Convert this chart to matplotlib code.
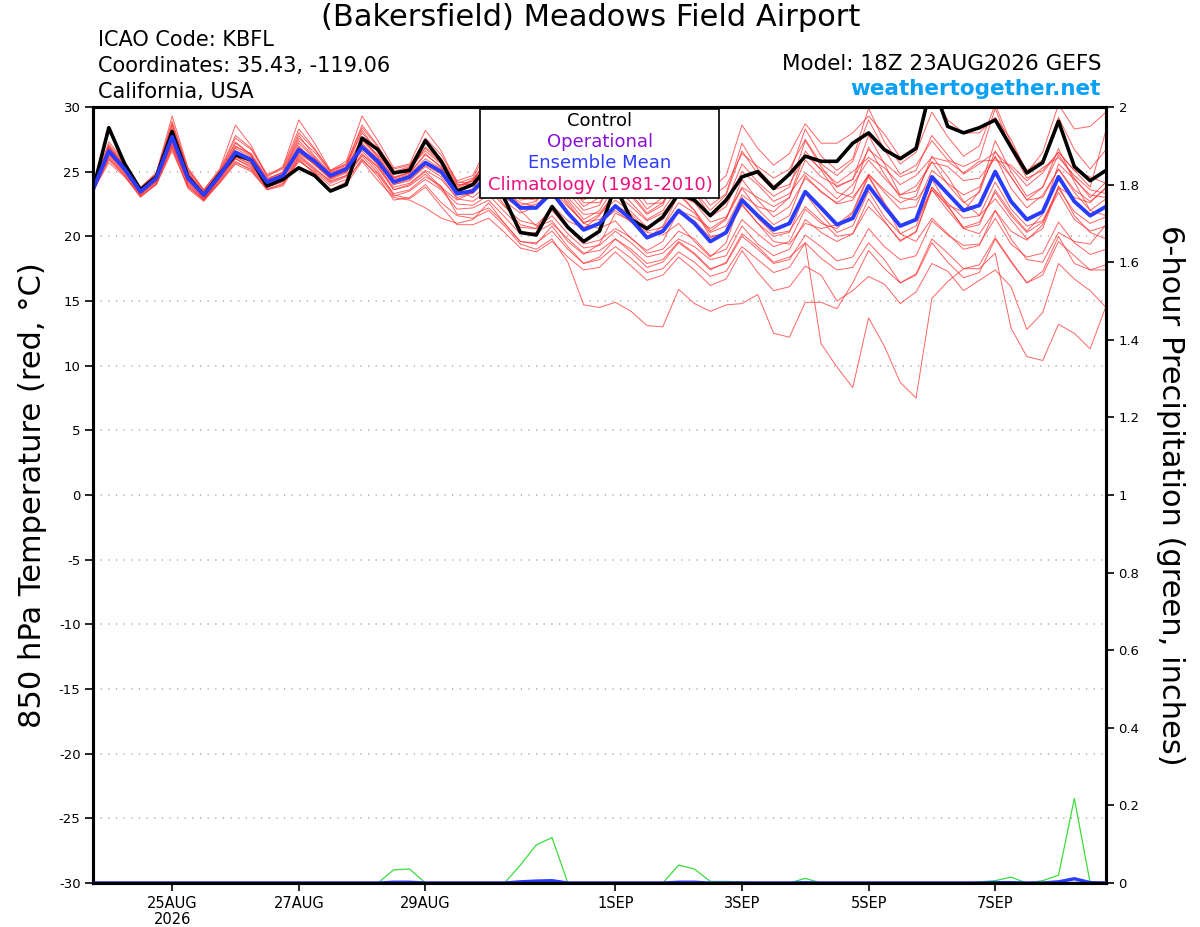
import numpy as np
import pandas as pd
import matplotlib
matplotlib.use("Agg")
import matplotlib.pyplot as plt
from matplotlib.patches import Rectangle

plt.rcParams["font.family"] = ["DejaVu Sans"]

# 6-hourly GEFS output, 18Z 23 Aug 2026 + 0..384 h
valid_times = pd.date_range("2026-08-23 18:00", periods=65, freq="6h")

control_temp = [
    23.6, 28.4, 25.6, 23.6, 24.6, 28.1, 24.6, 23.2, 24.8, 26.3,
    25.9, 23.9, 24.4, 25.3, 24.7, 23.5, 24.0, 27.6, 26.7, 24.9,
    25.1, 27.4, 25.8, 23.5, 24.0, 25.5, 22.9, 20.3, 20.1, 22.3,
    20.7, 19.6, 20.4, 23.9, 21.3, 20.6, 21.5, 23.3, 22.8, 21.6,
    22.8, 24.6, 25.0, 23.7, 24.8, 26.2, 25.8, 25.8, 27.2, 28.0,
    26.7, 26.0, 26.8, 31.9, 28.5, 28.0, 28.4, 29.0, 26.9, 24.9,
    25.7, 28.9, 25.4, 24.3, 25.1]

mean_temp = [
    23.6, 26.6, 25.2, 23.45, 24.5, 27.7, 24.5, 23.2, 24.7, 26.5,
    25.9, 24.2, 24.7, 26.7, 25.8, 24.7, 25.2, 26.9, 25.8, 24.2,
    24.6, 25.7, 25.0, 23.3, 23.5, 24.8, 23.3, 22.2, 22.2, 23.4,
    21.8, 20.5, 21.0, 22.35, 21.3, 19.9, 20.4, 22.0, 21.0, 19.6,
    20.3, 22.8, 21.6, 20.5, 21.0, 23.45, 22.2, 20.9, 21.4, 23.9,
    22.3, 20.8, 21.3, 24.6, 23.3, 22.0, 22.4, 25.0, 22.7, 21.3,
    21.9, 24.6, 22.7, 21.6, 22.3]

# perturbed members (850 hPa temperature, C)
m01 = [23.8, 27.3, 25.8, 23.7, 24.9, 29.3, 25.3, 23.6, 25.2, 28.6, 27.0, 24.6, 25.4, 29.0, 27.2, 25.1, 25.8, 29.3, 27.4, 25.3, 25.6, 28.2, 26.6,
       24.1, 24.5, 26.8, 24.8, 23.4, 23.8, 26.2, 23.8, 22.3, 23.0, 25.6, 23.7, 22.1, 23.0, 25.8, 24.0, 22.4, 23.3,
       27.2, 25.2, 23.9, 24.8, 28.3, 26.2, 25.1, 26.0, 29.9, 27.3, 25.6, 26.5, 29.6, 27.7, 26.2, 27.0, 30.2, 27.2, 25.1, 25.9, 29.2, 26.7, 25.2, 26.7]
m02 = [23.6, 26.2, 24.9, 23.3, 24.3, 27.0, 24.2, 22.9, 24.4, 26.0, 25.3, 23.8, 24.3, 26.2, 25.2, 24.3, 24.7, 26.3, 25.4, 23.8, 24.1, 25.1, 24.4,
       23.0, 23.4, 24.4, 22.7, 21.8, 22.3, 24.0, 22.6, 21.0, 20.6, 21.2, 19.8, 18.9, 19.6, 22.0, 21.5, 20.6, 21.4,
       23.7, 22.1, 20.9, 21.6, 24.7, 23.4, 22.6, 23.4, 26.9, 24.8, 23.0, 22.8, 24.4, 22.4, 20.6, 20.9, 23.6, 21.8, 20.4, 21.7, 25.6, 24.4, 23.2, 23.0]
m03 = [23.7, 26.8, 25.4, 23.5, 24.6, 28.4, 24.9, 23.3, 24.9, 27.2, 26.3, 24.4, 25.0, 27.8, 26.2, 24.9, 25.4, 28.2, 26.5, 24.9, 25.3, 26.8, 25.7,
       23.9, 24.3, 26.2, 24.3, 23.4, 23.2, 25.2, 23.4, 22.0, 22.4, 24.6, 23.3, 21.8, 22.6, 24.6, 23.4, 21.6, 22.6,
       25.6, 24.2, 23.1, 23.8, 27.4, 25.4, 23.8, 24.4, 26.7, 25.7, 24.6, 25.1, 27.8, 26.3, 24.8, 25.6, 26.5, 25.3, 23.9, 24.9, 26.5, 25.1, 24.6, 24.1]
m04 = [23.5, 25.7, 24.6, 23.1, 24.0, 26.6, 23.9, 22.8, 24.1, 25.6, 25.0, 23.6, 23.9, 25.8, 25.0, 23.9, 24.4, 25.9, 24.8, 23.1, 23.5, 24.4, 23.6,
       22.1, 22.2, 22.8, 21.5, 20.2, 20.3, 21.0, 19.8, 18.7, 18.9, 19.8, 19.0, 17.9, 18.2, 19.6, 18.7, 17.5, 17.9,
       20.0, 19.0, 17.9, 18.2, 20.1, 19.2, 18.1, 18.4, 20.6, 19.2, 18.2, 18.5, 21.2, 20.1, 19.3, 19.4, 21.4, 19.4, 18.4, 18.7, 21.1, 19.5, 18.6, 19.0]
m05 = [23.6, 27.0, 25.5, 23.6, 24.7, 28.0, 24.7, 23.4, 24.8, 26.9, 26.4, 24.5, 24.9, 27.4, 26.1, 24.8, 25.3, 27.6, 26.2, 24.5, 24.9, 26.3, 25.4,
       23.5, 23.9, 25.6, 24.2, 23.0, 22.8, 24.3, 23.0, 21.7, 21.8, 23.3, 22.3, 21.2, 21.8, 23.2, 22.6, 21.1, 21.5,
       23.8, 23.0, 22.3, 23.0, 25.9, 24.6, 23.9, 24.4, 27.8, 25.6, 23.2, 23.5, 25.8, 24.0, 22.6, 23.4, 26.6, 24.6, 22.8, 23.0, 25.2, 23.4, 22.0, 22.9]
m06 = [23.6, 26.4, 25.0, 23.2, 24.2, 27.3, 24.0, 22.8, 24.5, 26.1, 25.6, 23.9, 24.6, 26.4, 25.6, 24.4, 24.9, 26.8, 25.5, 23.6, 24.0, 25.0, 23.8,
       22.8, 23.4, 25.1, 23.6, 22.0, 20.8, 21.2, 19.6, 18.6, 19.4, 21.8, 21.2, 20.3, 20.1, 21.0, 19.6, 18.4, 19.5,
       23.0, 21.4, 20.2, 20.4, 22.3, 21.2, 20.0, 20.2, 22.3, 21.1, 19.7, 20.3, 23.8, 22.3, 20.7, 21.1, 23.4, 21.6, 20.3, 21.1, 23.4, 21.3, 20.4, 20.8]
m07 = [23.7, 26.9, 25.6, 23.8, 24.9, 28.9, 25.1, 23.6, 25.1, 27.8, 26.8, 24.8, 25.3, 28.3, 26.8, 25.0, 25.6, 28.6, 27.0, 25.0, 25.4, 27.6, 26.3,
       24.3, 24.7, 27.2, 25.3, 24.0, 24.4, 26.8, 24.6, 23.1, 24.0, 26.6, 24.7, 22.9, 23.8, 27.0, 25.4, 23.6, 24.7,
       28.6, 26.8, 25.5, 26.4, 28.7, 27.2, 27.2, 28.0, 29.3, 27.9, 26.1, 26.9, 31.2, 29.0, 28.0, 28.0, 29.2, 27.5, 24.9, 26.5, 30.2, 28.3, 28.5, 29.6]
m08 = [23.5, 26.0, 24.7, 23.0, 24.1, 26.8, 23.7, 22.7, 24.2, 25.8, 25.1, 23.7, 24.0, 25.9, 24.9, 23.6, 24.2, 26.0, 24.6, 22.8, 23.0, 24.0, 22.6,
       21.6, 21.4, 22.0, 20.8, 19.4, 19.0, 19.8, 18.0, 14.7, 14.5, 14.9, 14.2, 13.1, 13.0, 15.9, 14.8, 14.2, 14.7,
       14.8, 15.5, 12.5, 12.2, 14.9, 14.9, 14.4, 16.4, 18.9, 17.5, 16.4, 17.0, 19.5, 18.0, 16.8, 17.2, 19.8, 18.0, 16.4, 17.0, 19.6, 18.5, 17.4, 17.8]
m09 = [23.6, 26.5, 25.1, 23.4, 24.4, 27.6, 24.6, 23.1, 24.6, 26.4, 25.8, 24.1, 24.8, 26.9, 25.9, 24.8, 25.3, 27.2, 26.0, 24.4, 24.8, 26.0, 25.2,
       23.2, 23.7, 25.3, 23.5, 22.6, 22.3, 23.6, 22.3, 21.1, 21.3, 22.4, 21.7, 20.4, 20.7, 22.6, 21.8, 20.3, 20.8,
       23.2, 22.3, 21.9, 23.0, 26.6, 25.1, 23.4, 23.0, 24.7, 22.6, 20.9, 21.2, 23.6, 22.4, 21.9, 23.5, 27.4, 25.0, 23.1, 23.8, 26.8, 24.2, 22.0, 21.6]
m10 = [23.6, 26.7, 25.3, 23.5, 24.6, 28.2, 24.8, 23.3, 24.8, 26.8, 26.1, 24.3, 24.7, 27.0, 25.7, 24.5, 25.0, 27.0, 25.6, 24.0, 24.3, 25.4, 24.6,
       22.9, 22.7, 23.6, 22.3, 21.2, 20.9, 22.0, 20.6, 19.4, 19.7, 20.6, 19.9, 18.7, 19.0, 20.4, 19.8, 18.5, 19.0,
       21.3, 20.2, 19.2, 19.6, 22.1, 21.0, 20.6, 21.8, 24.6, 22.5, 20.2, 19.6, 21.4, 20.2, 19.0, 19.3, 22.0, 20.4, 19.7, 20.9, 23.9, 21.6, 20.3, 19.8]
m11 = [23.6, 26.3, 25.0, 23.3, 24.3, 27.2, 24.3, 23.0, 24.5, 26.2, 25.5, 24.0, 24.5, 26.6, 25.5, 24.5, 25.1, 27.4, 26.3, 24.8, 25.3, 26.6, 25.6,
       23.8, 24.4, 26.0, 24.1, 22.8, 23.0, 24.8, 22.8, 21.3, 22.0, 23.9, 22.6, 21.3, 22.0, 23.8, 22.8, 21.5, 22.3,
       25.0, 24.0, 22.7, 23.3, 24.9, 24.0, 22.9, 24.0, 25.9, 24.5, 23.2, 23.9, 25.7, 25.4, 24.3, 24.5, 26.1, 24.6, 22.8, 23.8, 26.3, 24.5, 23.0, 24.2]
m12 = [23.7, 26.9, 25.4, 23.6, 24.7, 28.6, 25.0, 23.4, 24.9, 27.3, 26.3, 24.4, 24.9, 27.6, 26.5, 25.0, 25.5, 28.0, 26.6, 24.6, 24.9, 26.4, 25.3,
       23.7, 24.3, 25.8, 24.7, 23.8, 23.6, 25.0, 24.0, 22.6, 22.6, 24.2, 23.1, 21.7, 22.4, 25.0, 23.5, 22.0, 23.2,
       26.6, 24.8, 23.6, 24.0, 26.3, 25.2, 24.1, 25.0, 26.1, 25.3, 24.0, 24.7, 26.1, 25.8, 24.9, 25.8, 25.9, 25.5, 24.3, 25.3, 26.1, 24.7, 23.6, 23.3]
m13 = [23.5, 26.1, 24.8, 23.2, 24.2, 27.1, 24.1, 22.9, 24.3, 26.0, 25.4, 23.8, 24.2, 26.1, 25.1, 24.1, 24.6, 26.2, 24.9, 23.3, 23.6, 24.6, 23.9,
       21.7, 21.7, 22.2, 21.0, 19.6, 19.5, 20.4, 19.0, 17.9, 18.2, 19.2, 18.3, 17.2, 17.5, 18.8, 18.0, 16.9, 17.3,
       19.2, 18.2, 17.2, 17.6, 19.5, 18.3, 17.4, 17.6, 19.5, 18.2, 16.4, 17.1, 19.8, 18.7, 17.5, 17.8, 19.9, 18.1, 16.4, 17.3, 20.0, 17.9, 17.4, 17.4]
m14 = [23.6, 26.6, 25.2, 23.4, 24.5, 27.8, 24.6, 23.2, 24.7, 26.6, 26.0, 24.2, 24.7, 26.8, 25.8, 24.6, 25.1, 26.9, 25.6, 24.0, 24.4, 25.5, 24.8,
       23.3, 23.3, 24.7, 23.0, 22.2, 22.5, 23.2, 21.7, 20.7, 21.0, 22.0, 21.1, 19.9, 20.5, 21.8, 21.2, 19.9, 20.3,
       22.5, 21.0, 19.6, 19.4, 21.0, 20.6, 20.9, 21.9, 24.8, 23.6, 22.6, 23.1, 26.2, 24.6, 22.7, 21.6, 22.9, 21.3, 19.8, 20.6, 23.8, 23.0, 22.6, 23.8]
m15 = [23.6, 26.8, 25.3, 23.5, 24.6, 28.1, 24.7, 23.2, 24.8, 27.0, 26.2, 24.3, 24.8, 27.2, 26.0, 24.8, 25.3, 27.5, 26.1, 24.5, 25.0, 26.9, 25.9,
       24.0, 24.0, 25.4, 23.6, 22.4, 22.7, 24.2, 22.4, 21.0, 21.7, 22.8, 21.9, 20.7, 21.3, 23.4, 22.0, 20.4, 21.3,
       24.4, 22.8, 21.5, 22.3, 24.5, 23.5, 22.5, 22.8, 24.8, 23.4, 22.1, 22.3, 25.1, 24.1, 23.2, 23.8, 26.2, 23.7, 22.2, 23.2, 25.2, 23.6, 22.7, 23.7]
m16 = [23.6, 26.4, 25.1, 23.4, 24.4, 27.4, 24.4, 23.1, 24.6, 26.3, 25.7, 24.1, 24.6, 26.5, 25.6, 24.5, 25.0, 26.6, 25.3, 23.6, 23.9, 24.8, 23.7,
       22.5, 22.4, 23.2, 21.9, 20.7, 20.6, 21.6, 20.2, 19.1, 19.3, 20.4, 19.5, 18.4, 18.7, 19.8, 19.2, 18.2, 18.5,
       20.8, 19.4, 18.5, 19.0, 21.3, 20.3, 19.6, 20.2, 22.9, 21.2, 19.6, 20.4, 23.6, 22.0, 20.6, 20.2, 22.0, 19.8, 18.2, 18.0, 20.3, 19.6, 19.4, 20.9]
m17 = [23.7, 27.1, 25.7, 23.7, 24.8, 28.7, 25.2, 23.5, 25.0, 27.6, 26.7, 24.7, 25.2, 28.0, 26.7, 25.1, 25.6, 28.4, 26.9, 25.2, 25.5, 27.3, 26.0,
       24.2, 24.1, 26.6, 24.6, 23.1, 23.6, 25.8, 23.6, 22.8, 23.6, 26.0, 24.3, 22.5, 22.6, 25.2, 24.4, 23.0, 23.9,
       26.4, 25.4, 24.5, 25.2, 27.5, 25.6, 24.7, 25.8, 29.0, 26.7, 24.8, 25.5, 27.4, 25.9, 25.4, 26.0, 29.9, 26.7, 24.5, 25.1, 26.5, 25.1, 23.8, 28.2]
m18 = [23.5, 25.9, 24.7, 23.1, 24.0, 26.9, 23.8, 22.8, 24.2, 25.7, 25.2, 23.6, 24.1, 26.0, 24.8, 23.5, 24.0, 25.8, 24.3, 23.0, 22.8, 22.2, 21.4,
       21.0, 21.3, 22.6, 21.0, 19.6, 19.4, 20.8, 19.2, 17.9, 18.4, 19.8, 18.8, 17.6, 18.0, 19.5, 18.6, 17.4, 18.0,
       20.2, 19.2, 18.0, 18.4, 19.5, 11.7, 9.9, 8.3, 13.7, 11.5, 8.7, 7.5, 15.2, 16.5, 17.5, 17.5, 18.7, 12.9, 10.7, 10.4, 13.2, 12.5, 11.3, 14.6]
m19 = [23.6, 26.6, 25.3, 23.5, 24.5, 27.9, 24.6, 23.2, 24.6, 26.5, 25.9, 24.2, 24.8, 26.7, 25.9, 24.7, 25.2, 27.1, 25.9, 24.3, 24.7, 25.8, 25.1,
       23.6, 23.0, 24.1, 22.4, 20.9, 20.6, 22.4, 21.2, 20.6, 21.6, 23.4, 21.6, 19.8, 20.8, 23.2, 22.0, 20.0, 20.2,
       22.4, 21.0, 20.0, 20.3, 23.3, 21.7, 20.3, 20.8, 23.5, 21.5, 20.2, 20.8, 23.8, 22.6, 21.4, 21.6, 24.2, 22.1, 20.8, 21.2, 23.7, 21.9, 21.0, 21.5]
m20 = [23.6, 26.5, 25.1, 23.3, 24.4, 27.5, 24.4, 23.0, 24.6, 26.4, 25.8, 24.0, 24.5, 26.3, 25.3, 24.2, 24.7, 26.4, 25.1, 23.2, 22.9, 23.8, 22.3,
       20.9, 20.9, 21.4, 20.3, 19.1, 18.8, 19.6, 18.4, 17.4, 17.6, 18.8, 17.7, 16.6, 17.0, 18.4, 17.4, 16.2, 16.7,
       18.9, 17.2, 15.8, 16.1, 17.7, 17.0, 15.0, 15.8, 16.9, 16.3, 14.8, 15.7, 17.9, 17.3, 15.8, 16.6, 17.4, 16.1, 12.8, 14.1, 17.9, 16.7, 15.8, 14.5]
member_temps = [m01, m02, m03, m04, m05, m06, m07, m08, m09, m10,
                m11, m12, m13, m14, m15, m16, m17, m18, m19, m20]

# 6-hour precipitation (inches): wettest member, ensemble mean, control
member_precip = [
    0, 0, 0, 0, 0, 0, 0, 0, 0, 0,
    0, 0, 0, 0, 0, 0, 0, 0, 0, 0.034,
    0.036, 0, 0, 0, 0, 0, 0, 0.046, 0.098, 0.117,
    0, 0, 0, 0.001, 0, 0, 0, 0.046, 0.036, 0.004,
    0.004, 0.003, 0, 0, 0, 0.012, 0, 0, 0, 0,
    0, 0, 0, 0, 0, 0, 0.003, 0.006, 0.015, 0,
    0.006, 0.020, 0.218, 0, 0]
mean_precip = [
    0, 0, 0, 0, 0, 0, 0, 0, 0, 0,
    0, 0, 0, 0, 0, 0, 0, 0, 0, 0.002,
    0.002, 0, 0, 0, 0, 0, 0, 0.003, 0.005, 0.006,
    0, 0, 0, 0, 0, 0, 0, 0.002, 0.002, 0,
    0, 0, 0, 0, 0, 0.001, 0, 0, 0, 0,
    0, 0, 0, 0, 0, 0, 0, 0.001, 0.001, 0,
    0, 0.003, 0.011, 0.001, 0]
control_precip = [0.0] * len(valid_times)

temp_ticks = list(range(-30, 31, 5))
precip_ticks = [0, 0.2, 0.4, 0.6, 0.8, 1, 1.2, 1.4, 1.6, 1.8, 2]
precip_labels = ["0", "0.2", "0.4", "0.6", "0.8", "1", "1.2", "1.4", "1.6", "1.8", "2"]
date_ticks = pd.to_datetime(["2026-08-25", "2026-08-27", "2026-08-29", "2026-09-01",
                             "2026-09-03", "2026-09-05", "2026-09-07"])
date_labels = ["25AUG\n2026", "27AUG", "29AUG", "1SEP", "3SEP", "5SEP", "7SEP"]

#%% figure
fig = plt.figure(figsize=(12, 9.27), dpi=100)
ax = fig.add_axes([93 / 1200, 44 / 927, 1013 / 1200, 776 / 927])

for m in member_temps:
    ax.plot(valid_times, m, color="#FF3030", lw=0.7, alpha=0.75, zorder=2)
ax.plot(valid_times, control_temp, color="black", lw=2.6, zorder=4)
ax.plot(valid_times, mean_temp, color="#2A3CFF", lw=2.8, zorder=5)

ax.set_xlim(valid_times[0], valid_times[-1])
ax.set_ylim(-30, 30)
ax.set_yticks(temp_ticks)
ax.set_yticklabels([str(t) for t in temp_ticks], fontsize=9.5)
ax.set_xticks(date_ticks)
ax.set_xticklabels(date_labels, fontsize=10.5, linespacing=1.1)
for t in temp_ticks[1:-1]:
    ax.axhline(t, color="#A8A8A8", lw=1.1, ls=(0, (0.8, 4.2)), zorder=1)
ax.tick_params(axis="both", direction="out", length=6, width=1.2, pad=3)
for s in ax.spines.values():
    s.set_linewidth(2.2)

ax2 = ax.twinx()
ax2.plot(valid_times, member_precip, color="#3CDC3C", lw=0.9, zorder=2)
ax2.plot(valid_times, mean_precip, color="#2A3CFF", lw=2.4, zorder=3)
ax2.plot(valid_times, control_precip, color="black", lw=2.4, zorder=4)
ax2.set_ylim(0, 2)
ax2.set_yticks(precip_ticks)
ax2.set_yticklabels(precip_labels, fontsize=9.5)
ax2.tick_params(axis="y", direction="out", length=6, width=1.2, pad=3)
for s in ax2.spines.values():
    s.set_linewidth(2.2)

# legend box
fig.add_artist(Rectangle((480 / 1200, 1 - 198 / 927), 239 / 1200, 89 / 927,
                         transform=fig.transFigure, facecolor="white",
                         edgecolor="black", lw=1.2, zorder=10))
leg = [("Control", "black", 121), ("Operational", "#8A10D8", 142),
       ("Ensemble Mean", "#2E3CFF", 163), ("Climatology (1981-2010)", "#EE1080", 185)]
for txt, col, ypx in leg:
    fig.text(600 / 1200, 1 - ypx / 927, txt, color=col, fontsize=13,
             ha="center", va="center", zorder=11)

# header texts
fig.text(591 / 1200, 1 - 18 / 927, "(Bakersfield) Meadows Field Airport",
         fontsize=22, ha="center", va="center")
fig.text(98 / 1200, 1 - 40 / 927, "ICAO Code: KBFL", fontsize=15, ha="left", va="center")
fig.text(98 / 1200, 1 - 66 / 927, "Coordinates: 35.43, -119.06", fontsize=15, ha="left", va="center")
fig.text(98 / 1200, 1 - 92 / 927, "California, USA", fontsize=15, ha="left", va="center")
fig.text(1101 / 1200, 1 - 64 / 927, "Model: 18Z 23AUG2026 GEFS", fontsize=15.5,
         ha="right", va="center")
fig.text(1101 / 1200, 1 - 89 / 927, "weathertogether.net", fontsize=15.5, fontweight="bold",
         color="#0AA0F5", ha="right", va="center")

fig.text(33 / 1200, 1 - 495 / 927, "850 hPa Temperature (red, °C)", fontsize=22,
         rotation=90, ha="center", va="center")
fig.text(1170 / 1200, 1 - 495 / 927, "6-hour Precipitation (green, inches)", fontsize=22,
         rotation=270, ha="center", va="center")

fig.savefig("out.png", dpi=100)
